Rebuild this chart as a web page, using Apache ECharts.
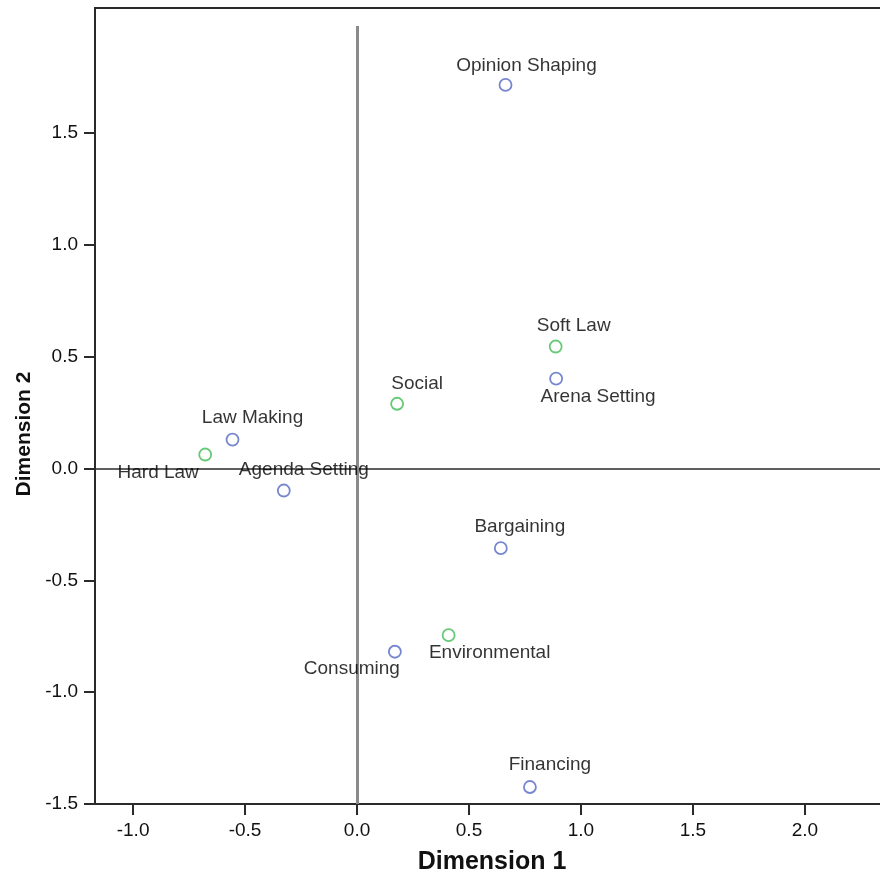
<!DOCTYPE html>
<html>
<head>
<meta charset="utf-8">
<script src="https://cdn.jsdelivr.net/npm/echarts@6/dist/echarts.min.js"></script>
<style>
  html, body { margin: 0; padding: 0; background: #fff; }
  #chart { width: 880px; height: 878px; }
</style>
</head>
<body>
<div id="chart"></div>
<script>
// Object points (roles), drawn in blue
const roleNames = ['Opinion Shaping', 'Arena Setting', 'Law Making', 'Agenda Setting', 'Bargaining', 'Consuming', 'Financing'];
const roleDim1 = [0.663, 0.889, -0.556, -0.327, 0.642, 0.169, 0.772];
const roleDim2 = [1.716, 0.402, 0.130, -0.098, -0.356, -0.819, -1.424];

// Category points (types), drawn in green
const typeNames = ['Soft Law', 'Social', 'Hard Law', 'Environmental'];
const typeDim1 = [0.887, 0.179, -0.678, 0.409];
const typeDim2 = [0.546, 0.290, 0.063, -0.745];

// Tick values
const xTicks = [-1.0, -0.5, 0.0, 0.5, 1.0, 1.5, 2.0];
const yTicks = [-1.5, -1.0, -0.5, 0.0, 0.5, 1.0, 1.5];

// Label placement relative to each marker, in pixels
const roleLabelOffset = [[21, -19], [42, 18], [20, -22], [20, -21], [19, -21], [-43, 17], [20, -22]];
const typeLabelOffset = [[18, -21], [20, -20], [-47, 18], [41, 18]];

const FONT = '"Liberation Sans", Arial, sans-serif';

function buildPoints(names, xs, ys, offsets) {
  return names.map((n, i) => ({
    name: n,
    value: [xs[i], ys[i]],
    label: { offset: offsets[i] }
  }));
}

const pointLabel = {
  show: true,
  position: 'inside',
  formatter: p => p.name,
  color: '#000',
  fontSize: 19,
  fontFamily: FONT
};

const chart = echarts.init(document.getElementById('chart'), null, { renderer: 'canvas' });

chart.setOption({
  animation: false,
  backgroundColor: '#ffffff',
  grid: {
    left: 95, top: 8, width: 804, height: 796,
    outerBoundsMode: 'none',
    containLabel: false,
    show: true, borderColor: '#2a2a2a', borderWidth: 2, backgroundColor: 'transparent'
  },
  xAxis: {
    type: 'value',
    min: -1.17, max: 2.42,
    name: 'Dimension 1',
    nameLocation: 'middle',
    nameGap: 46,
    nameTextStyle: { fontSize: 25, fontWeight: 'bold', color: '#111', fontFamily: FONT, padding: [0, 10, 0, 0] },
    axisLine: { show: true, onZero: false, lineStyle: { color: '#2a2a2a', width: 2 } },
    axisTick: { show: true, inside: false, length: 11, customValues: xTicks, lineStyle: { color: '#2a2a2a', width: 2 } },
    axisLabel: {
      customValues: xTicks, margin: 17, fontSize: 19, color: '#111', fontFamily: FONT,
      formatter: v => v.toFixed(1)
    },
    splitLine: { show: false }
  },
  yAxis: {
    type: 'value',
    min: -1.5, max: 2.06,
    name: 'Dimension 2',
    nameLocation: 'middle',
    nameGap: 57,
    nameTextStyle: { fontSize: 21, fontWeight: 'bold', color: '#111', fontFamily: FONT, padding: [0, 56, 0, 0] },
    axisLine: { show: true, onZero: false, lineStyle: { color: '#2a2a2a', width: 2 } },
    axisTick: { show: true, inside: false, length: 11, customValues: yTicks, lineStyle: { color: '#2a2a2a', width: 2 } },
    axisLabel: {
      customValues: yTicks, margin: 17, fontSize: 19, color: '#111', fontFamily: FONT,
      formatter: v => v.toFixed(1)
    },
    splitLine: { show: false }
  },
  series: [
    {
      type: 'scatter',
      name: 'Roles',
      symbol: 'circle',
      symbolSize: 12,
      itemStyle: { color: '#ffffff', borderColor: '#5468c4', borderWidth: 1.8 },
      label: pointLabel,
      data: buildPoints(roleNames, roleDim1, roleDim2, roleLabelOffset),
      markLine: {
        silent: true,
        symbol: 'none',
        label: { show: false },
        z: 1,
        data: [
          { yAxis: 0, lineStyle: { color: '#2a2a2a', width: 1.6, type: 'solid' } },
          [
            { coord: [0, 1.98], lineStyle: { color: '#8a8a8a', width: 3, type: 'solid' } },
            { coord: [0, -1.5] }
          ]
        ]
      },
      z: 3
    },
    {
      type: 'scatter',
      name: 'Types',
      symbol: 'circle',
      symbolSize: 12,
      itemStyle: { color: '#ffffff', borderColor: '#40bb52', borderWidth: 1.8 },
      label: pointLabel,
      data: buildPoints(typeNames, typeDim1, typeDim2, typeLabelOffset),
      z: 3
    }
  ]
});
</script>
</body>
</html>
